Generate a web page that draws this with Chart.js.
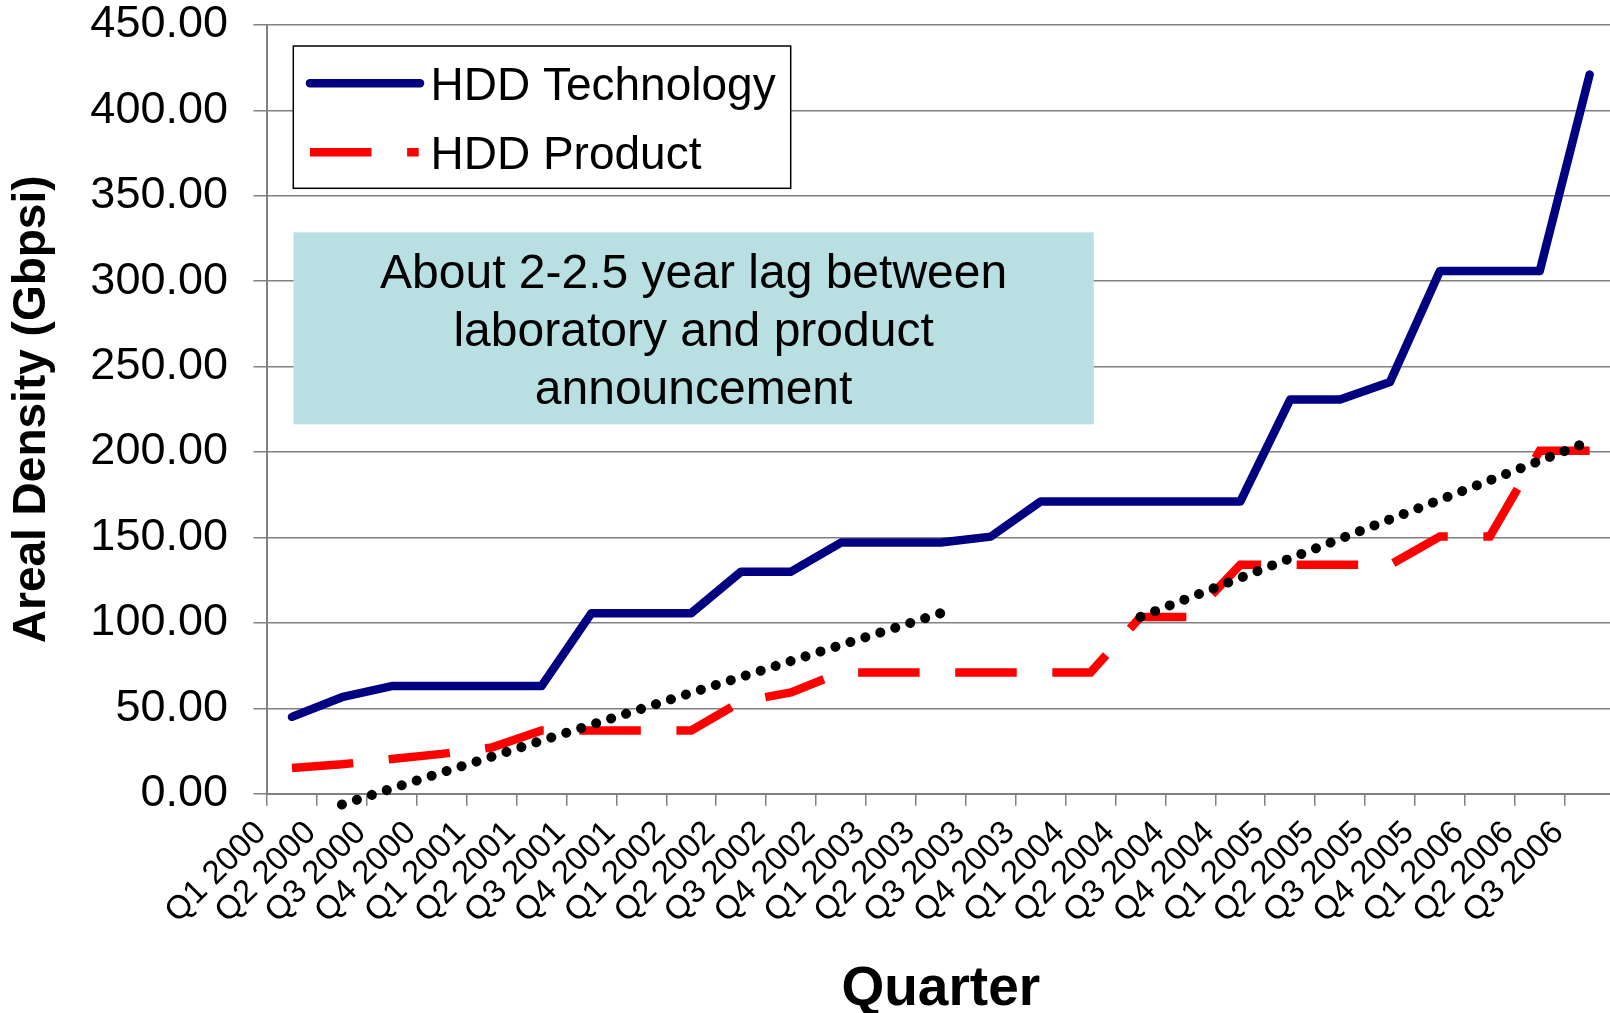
<!DOCTYPE html>
<html>
<head>
<meta charset="utf-8">
<script src="https://cdn.jsdelivr.net/npm/chart.js@4.4.0/dist/chart.umd.min.js"></script>
<style>
  html, body { margin: 0; padding: 0; background: #fff; overflow: hidden; }
  #wrap { width: 1640px; height: 1013px; }
</style>
</head>
<body>
<div id="wrap"><canvas id="densityChart" width="1640" height="1013"></canvas></div>
<script>
const quarters = [
  'Q1 2000', 'Q2 2000', 'Q3 2000', 'Q4 2000',
  'Q1 2001', 'Q2 2001', 'Q3 2001', 'Q4 2001',
  'Q1 2002', 'Q2 2002', 'Q3 2002', 'Q4 2002',
  'Q1 2003', 'Q2 2003', 'Q3 2003', 'Q4 2003',
  'Q1 2004', 'Q2 2004', 'Q3 2004', 'Q4 2004',
  'Q1 2005', 'Q2 2005', 'Q3 2005', 'Q4 2005',
  'Q1 2006', 'Q2 2006', 'Q3 2006'
];

const hddTechnology = [45, 56.5, 63, 63, 63, 63, 105.7, 105.7, 105.7, 130, 130, 147, 147, 147, 150.5,
  171, 171, 171, 171, 171, 230.7, 230.7, 241, 306, 306, 306, 421];

const hddProduct = [15, 17.2, 20.3, 23.3, 27, 37, 37, 37, 37, 54, 59.3, 71, 71, 71, 71, 71, 71,
  103.4, 103.4, 134, 134, 134, 134, 150.6, 150.6, 200.8, 200.8];

// trend lines: only the end values
const trendEarly = [null, -6.3, null, null, null, null, null, null, null, null, null, null, null, 105.7,
  null, null, null, null, null, null, null, null, null, null, null, null, null];
const trendLate = [null, null, null, null, null, null, null, null, null, null, null, null, null, null,
  null, null, null, 103.5, null, null, null, null, null, null, null, null, 206.3];

const yTicks = [0, 50, 100, 150, 200, 250, 300, 350, 400, 450];

const noteLines = ['About 2-2.5 year lag between', 'laboratory and product', 'announcement'];

const FONT = "'Liberation Sans', Arial, sans-serif";

const boxesPlugin = {
  id: 'boxes',
  beforeDatasetsDraw(chart) {
    const ctx = chart.ctx;
    const ds = chart.data.datasets;
    ctx.save();

    // annotation box
    ctx.fillStyle = '#B8E0E2';
    ctx.fillRect(293.5, 232.3, 800.3, 192);
    ctx.fillStyle = '#000';
    ctx.font = '48px ' + FONT;
    ctx.textAlign = 'center';
    ctx.textBaseline = 'alphabetic';
    noteLines.forEach((t, i) => ctx.fillText(t, 693.6, 288 + i * 58));

    // legend box
    ctx.fillStyle = '#fff';
    ctx.fillRect(293.3, 46, 497.4, 142.3);
    ctx.strokeStyle = '#000';
    ctx.lineWidth = 1.5;
    ctx.strokeRect(293.3, 46, 497.4, 142.3);

    ctx.lineWidth = 8.5;
    ctx.strokeStyle = ds[0].borderColor;
    ctx.lineCap = 'round';
    ctx.beginPath();
    ctx.moveTo(310, 83.3);
    ctx.lineTo(420, 83.3);
    ctx.stroke();

    ctx.strokeStyle = ds[1].borderColor;
    ctx.lineCap = 'butt';
    ctx.setLineDash(ds[1].borderDash);
    ctx.beginPath();
    ctx.moveTo(310, 152.3);
    ctx.lineTo(418.7, 152.3);
    ctx.stroke();
    ctx.setLineDash([]);

    ctx.fillStyle = '#000';
    ctx.font = '46px ' + FONT;
    ctx.textAlign = 'left';
    ctx.fillText(ds[0].label, 430.5, 100);
    ctx.fillText(ds[1].label, 430.5, 169.3);
    ctx.restore();
  }
};

new Chart(document.getElementById('densityChart'), {
  type: 'line',
  data: {
    labels: quarters,
    datasets: [
      {
        label: 'HDD Technology',
        data: hddTechnology,
        borderColor: '#000080',
        borderWidth: 8.5,
        borderCapStyle: 'round',
        borderJoinStyle: 'round',
        pointRadius: 0,
        order: 2,
      },
      {
        label: 'HDD Product',
        data: hddProduct,
        borderColor: '#FF0000',
        borderWidth: 8.5,
        borderDash: [61.5, 35.6],
        borderCapStyle: 'butt',
        borderJoinStyle: 'miter',
        pointRadius: 0,
        order: 2,
      },
      {
        label: 'trend early',
        data: trendEarly,
        borderColor: '#000',
        borderWidth: 10,
        borderDash: [0.1, 15.6],
        borderCapStyle: 'round',
        spanGaps: true,
        pointRadius: 0,
        clip: false,
        order: 1,
      },
      {
        label: 'trend late',
        data: trendLate,
        borderColor: '#000',
        borderWidth: 10,
        borderDash: [0.1, 15.6],
        borderCapStyle: 'round',
        spanGaps: true,
        pointRadius: 0,
        clip: false,
        order: 1,
      },
    ],
  },
  options: {
    responsive: false,
    animation: false,
    devicePixelRatio: 1,
    layout: { padding: { top: 25, right: 25.4, bottom: 0, left: 0 } },
    plugins: {
      legend: { display: false },
      tooltip: { enabled: false },
    },
    scales: {
      x: {
        type: 'category',
        offset: true,
        grid: { offset: true, drawOnChartArea: false, tickLength: 12, color: '#808080', lineWidth: 1.5 },
        border: { color: '#808080', width: 2 },
        ticks: {
          autoSkip: false,
          maxRotation: 45,
          minRotation: 45,
          labelOffset: -31,
          padding: 8,
          color: '#000',
          font: { family: FONT, size: 33 },
        },
        title: {
          display: true,
          text: 'Quarter',
          color: '#000',
          font: { family: FONT, size: 55, weight: 'bold', lineHeight: 0.8 },
          padding: { top: 0, bottom: 1 },
        },
        afterFit(s) {
          s.height = 219.3;
          s.paddingLeft = 0;
          s.paddingRight = 0;
        },
      },
      y: {
        min: 0,
        max: 450,
        afterBuildTicks(s) {
          s.ticks = yTicks.map((v) => ({ value: v }));
        },
        ticks: {
          padding: 25.5,
          color: '#000',
          font: { family: FONT, size: 45 },
          callback: (v) => Number(v).toFixed(2),
        },
        grid: { color: '#808080', lineWidth: 1.5, tickLength: 13.5 },
        border: { color: '#808080', width: 2 },
        title: {
          display: true,
          text: 'Areal Density (Gbpsi)',
          color: '#000',
          font: { family: FONT, size: 46, weight: 'bold' },
          padding: { top: 4.4, bottom: 0 },
        },
        afterFit(s) {
          s.width = 267;
          s.paddingTop = 0;
          s.paddingBottom = 0;
        },
      },
    },
  },
  plugins: [boxesPlugin],
});
</script>
</body>
</html>
